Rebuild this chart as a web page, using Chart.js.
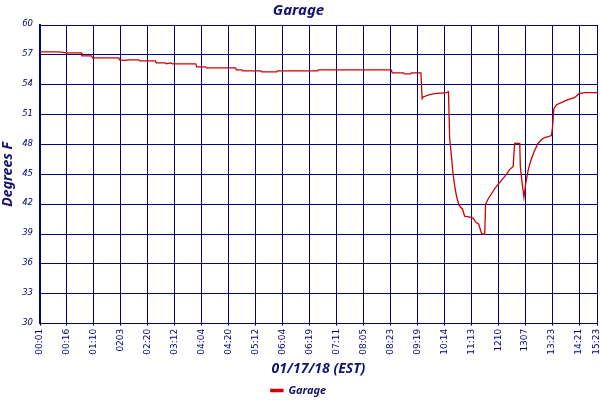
<!DOCTYPE html>
<html>
<head>
<meta charset="utf-8">
<script src="https://cdn.jsdelivr.net/npm/chart.js@4/dist/chart.umd.min.js"></script>
<style>
html,body{margin:0;padding:0;background:#fff;}
#wrap{width:600px;height:400px;}
</style>
</head>
<body>
<div id="wrap"><canvas id="c" width="600" height="400"></canvas></div>
<script>
// Sample positions (reading index along the x axis) and temperatures (deg F)
const sampleIdx = [0, 6.3, 7.5, 8.7, 13.8, 14.0, 17.2, 17.5, 26.3, 26.6, 28, 30, 33.0, 33.3, 38.5, 38.8, 41.8, 42.1, 43.6, 44.3,
  52.0, 52.3, 55.3, 55.6, 65.3, 65.6, 67.4, 67.7, 73.7, 74.0, 79.0, 79.3, 85, 92.7, 93.0, 117.3, 117.6, 121.4, 121.7, 123.7, 124.0, 127.2,
  127.6, 128.1, 130.1, 131.8, 135.7, 136.4, 136.8, 137.4, 137.9, 138.5, 139.1, 139.9, 141.1, 141.8, 143.5, 144.6, 145.5, 146.5,
  147.4, 147.9, 148.5, 148.8, 149.6, 150.7, 151.9, 153.0, 154.1, 155.5, 156.9, 158.0, 158.5, 160.2, 160.4, 161.0, 161.6, 162.2,
  163.0, 163.9, 165.0, 166.3, 167.5, 168.6, 170.8, 171.1, 171.6, 172.5, 174.1, 176.3, 178.5, 180.0, 181.9, 186];
const tempF = [57.3, 57.3, 57.25, 57.2, 57.2, 56.9, 56.9, 56.7, 56.7, 56.5, 56.45, 56.5, 56.5, 56.4, 56.4, 56.2, 56.2, 56.1, 56.2, 56.1,
  56.1, 55.8, 55.8, 55.7, 55.7, 55.5, 55.5, 55.4, 55.4, 55.3, 55.3, 55.4, 55.4, 55.4, 55.5, 55.5, 55.2, 55.2, 55.1, 55.1, 55.2, 55.2,
  52.6, 52.8, 53.0, 53.1, 53.2, 53.3, 48.6, 46.8, 45.1, 43.8, 42.8, 41.9, 41.5, 40.8, 40.7, 40.6, 40.2, 40.0,
  39.1, 39.0, 39.0, 42.0, 42.5, 43.0, 43.6, 44.0, 44.4, 44.9, 45.5, 45.8, 48.1, 48.1, 45.8, 44.1, 42.7, 44.1,
  45.4, 46.4, 47.3, 48.1, 48.5, 48.7, 48.9, 49.6, 51.6, 52.0, 52.2, 52.5, 52.7, 53.1, 53.2, 53.2];
// Time labels and the sample index each one sits at
const timeLabels = ['00:01','00:16','01:10','0203','02:20','03:12','04:04','04:20','05:12','06:04','06:19','07:11',
  '08:05','08:23','09:19','10:14','11:13','1210','1307','13:23','14:21','15:23'];
const labelIdx = [0, 9, 18, 27, 36, 45, 54, 63, 72, 81, 90, 99, 108, 117, 126, 135, 144, 153, 162, 171, 180, 186];
const yTicks = [30, 33, 36, 39, 42, 45, 48, 51, 54, 57, 60];

const NAVY = '#000080';
const TEXT = '#00007a';
const RED = '#cc0000';

const points = sampleIdx.map((x, i) => ({x: x, y: tempF[i]}));

new Chart(document.getElementById('c'), {
  type: 'line',
  data: {
    datasets: [{
      label: 'Garage',
      data: points,
      borderColor: RED,
      backgroundColor: RED,
      borderWidth: 1.3,
      pointRadius: 0,
      tension: 0
    }]
  },
  options: {
    responsive: false,
    animation: false,
    layout: {padding: {left: 0, right: 3, top: 0, bottom: -6}},
    plugins: {
      title: {
        display: true,
        text: 'Garage',
        color: '#14146e',
        font: {family: 'Noto Sans', size: 15, weight: 'bold', style: 'italic'},
        padding: {top: 2, bottom: 5}
      },
      legend: {
        position: 'bottom',
        labels: {
          color: '#14146e',
          font: {family: 'Noto Sans', size: 11, weight: 'bold', style: 'italic'},
          boxWidth: 12,
          boxHeight: 2,
          padding: 2
        }
      },
      tooltip: {enabled: false}
    },
    scales: {
      x: {
        type: 'linear',
        min: 0,
        max: 186,
        afterBuildTicks: (scale) => { scale.ticks = labelIdx.map(v => ({value: v})); },
        afterFit: (scale) => { scale.height = 59.3; scale.paddingLeft = 0; scale.paddingRight = 0; },
        ticks: {
          autoSkip: false,
          minRotation: 90,
          maxRotation: 90,
          color: TEXT,
          padding: 3,
          font: {family: 'DejaVu Sans', size: 9},
          callback: (v) => { const i = labelIdx.indexOf(v); return i >= 0 ? timeLabels[i] : ''; }
        },
        grid: {color: NAVY, lineWidth: 1, tickLength: 2},
        border: {color: NAVY, width: 1},
        title: {
          display: true,
          text: '01/17/18 (EST)',
          color: '#14146e',
          font: {family: 'Noto Sans', size: 14, weight: 'bold', style: 'italic'},
          padding: {top: 0, bottom: 6}
        }
      },
      y: {
        min: 30,
        max: 60,
        afterBuildTicks: (scale) => { scale.ticks = yTicks.map(v => ({value: v})); },
        afterFit: (scale) => { scale.width = 40; scale.paddingTop = 0; scale.paddingBottom = 0; },
        ticks: {
          color: TEXT,
          padding: 7,
          labelOffset: -1,
          font: {family: 'DejaVu Sans', size: 8.5, style: 'italic'}
        },
        grid: {color: NAVY, lineWidth: 1, tickLength: 0},
        border: {color: NAVY, width: 2},
        title: {
          display: true,
          text: 'Degrees F',
          color: '#14146e',
          font: {family: 'Noto Sans', size: 14, weight: 'bold', style: 'italic'},
          padding: {top: 0, bottom: 0}
        }
      }
    }
  }
});
</script>
</body>
</html>
